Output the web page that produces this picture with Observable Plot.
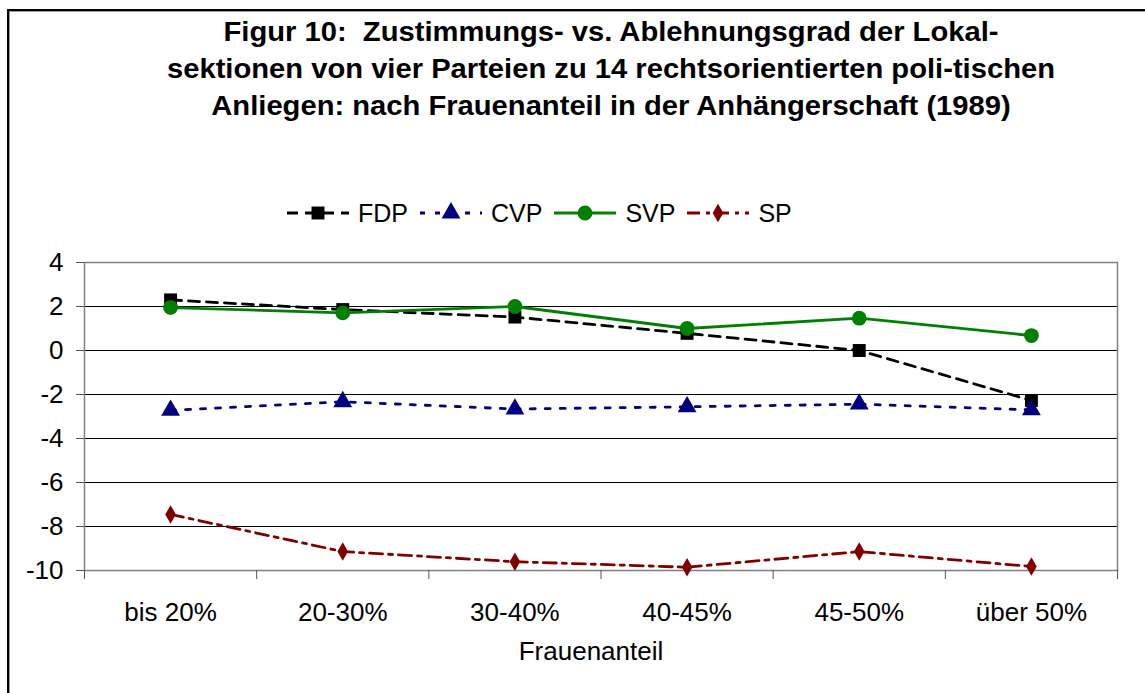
<!DOCTYPE html>
<html><head><meta charset="utf-8">
<script src="https://cdn.jsdelivr.net/npm/d3@7"></script>
<script src="https://cdn.jsdelivr.net/npm/@observablehq/plot@0.6"></script>
<style>
body{margin:0;background:#fff;font-family:"Liberation Sans",Arial,sans-serif;color:#000;}
#wrap{position:relative;width:1145px;height:693px;overflow:hidden;background:#fff;}
#frame{position:absolute;left:7px;top:9px;width:1400px;height:900px;border-left:2px solid #000;border-top:2px solid #000;box-shadow:1px 1px 0 #999 inset;}
#title{position:absolute;left:0;width:1222px;top:14px;text-align:center;font-weight:bold;font-size:27px;line-height:37px;transform:scaleX(1.08);transform-origin:611px 0;white-space:nowrap;}
#legend{position:absolute;top:198px;left:287px;display:flex;align-items:center;font-size:25px;height:30px;}
#legend .item{display:flex;align-items:center;margin-right:12px;}
#legend svg{margin-right:9px;}
#chart{position:absolute;left:0;top:0;}
</style>
</head><body>
<div id="wrap">
  <div id="frame"></div>
  <div id="chart"></div>
  <div id="title"></div>
  <div id="legend"></div>
</div>
<script>
const titleLines = [
  "Figur 10:\u00a0 Zustimmungs- vs. Ablehnungsgrad der Lokal-",
  "sektionen von vier Parteien zu 14 rechtsorientierten poli-tischen",
  "Anliegen: nach Frauenanteil in der Anhängerschaft (1989)"
];
const categories = ["bis 20%", "20-30%", "30-40%", "40-45%", "45-50%", "über 50%"];
const xTitle = "Frauenanteil";
const seriesNames = ["FDP", "CVP", "SVP", "SP"];
const fdp = [2.3, 1.86, 1.52, 0.78, 0.0, -2.27];
const cvp = [-2.72, -2.33, -2.66, -2.56, -2.44, -2.7];
const svp = [1.95, 1.71, 2.0, 1.0, 1.47, 0.68];
const sp  = [-7.45, -9.14, -9.6, -9.85, -9.14, -9.82];
const yTicks = [-10, -8, -6, -4, -2, 0, 2, 4];

const seriesValues = [fdp, cvp, svp, sp];
const colors = ["#000000", "#000080", "#008000", "#800000"];
const dashes = ["11,7", "5,10", null, "13,6,4,6"];
const symbols = ["square", "triangle", "circle", "diamond"];
const radii = [7.3, 7, 7.4, 5.6];

document.getElementById("title").innerHTML = titleLines.map(t => `<div>${t}</div>`).join("");

const data = seriesNames.flatMap((s, k) => seriesValues[k].map((v, i) => ({series: s, i, value: v})));

const marks = [
  Plot.ruleY(yTicks.filter(d => d < 4), {stroke: "#000", strokeWidth: 1}),
  Plot.frame({stroke: "#808080", strokeWidth: 1.5}),
  Plot.axisY({ticks: yTicks, tickSize: 8, tickPadding: 13, fontSize: 26, tickFormat: d => String(d), label: null, stroke: "#555"}),
  Plot.axisX({ticks: categories.map((c, i) => i - 0.5).concat([categories.length - 0.5]), tickSize: 9, tickFormat: () => "", label: null, stroke: "#555"}),
  Plot.axisX({ticks: d3.range(categories.length), tickSize: 0, tickPadding: 32, fontSize: 26, tickFormat: i => categories[i], label: null}),
];
seriesNames.forEach((s, k) => {
  const rows = data.filter(d => d.series === s);
  marks.push(Plot.line(rows, {x: "i", y: "value", stroke: colors[k], strokeWidth: 2.8, strokeDasharray: dashes[k] || undefined}));
  marks.push(Plot.dot(rows, {x: "i", y: "value", fill: colors[k], symbol: symbols[k], r: radii[k], stroke: "none"}));
});
marks.push(Plot.text([xTitle], {frameAnchor: "bottom", dy: 89, dx: -10, fontSize: 26, fill: "#000"}));

const chart = Plot.plot({
  width: 1145,
  height: 693,
  marginLeft: 84,
  marginRight: 28,
  marginTop: 262,
  marginBottom: 123,
  style: {fontFamily: "'Liberation Sans', Arial, sans-serif", color: "#000", background: "transparent", overflow: "visible"},
  x: {type: "linear", domain: [-0.5, categories.length - 0.5], axis: null},
  y: {domain: [-10, 4], axis: null},
  marks
});
document.getElementById("chart").appendChild(chart);

// legend
const legend = document.getElementById("legend");
seriesNames.forEach((s, k) => {
  const item = document.createElement("div");
  item.className = "item";
  const sym = {square: d3.symbolSquare, triangle: d3.symbolTriangle, circle: d3.symbolCircle, diamond: d3.symbolDiamond}[symbols[k]];
  const path = d3.symbol(sym, Math.PI * radii[k] * radii[k])();
  item.innerHTML = `<svg width="62" height="30"><line x1="0" x2="62" y1="15" y2="15" stroke="${colors[k]}" stroke-width="2.8" ${dashes[k] ? `stroke-dasharray="${dashes[k]}"` : ""}/><path d="${path}" transform="translate(31,15)" fill="${colors[k]}"/></svg><span>${s}</span>`;
  legend.appendChild(item);
});
</script>
</body></html>
